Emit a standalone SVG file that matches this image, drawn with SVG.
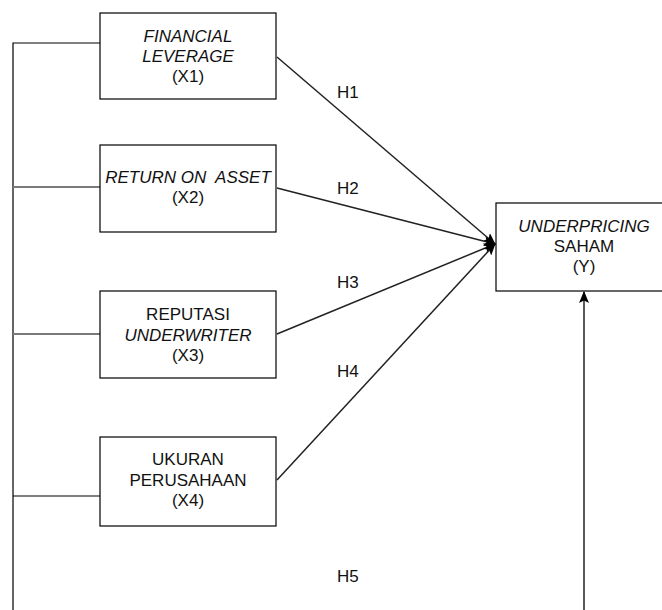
<svg xmlns="http://www.w3.org/2000/svg" width="662" height="610" viewBox="0 0 662 610">
<style>
.box{fill:#fff;stroke:#000;stroke-width:1.2}
text{font-family:"Liberation Sans",Arial,sans-serif;font-size:17px;fill:#111;text-anchor:middle;white-space:pre}
.i{font-style:italic}
.lbl{text-anchor:start}
.ln{stroke:#000;stroke-width:1.2;fill:none}
.gr{stroke:#7a7a7a;stroke-width:2;fill:none}
.ar{stroke:#222;stroke-width:1.5;fill:none;marker-end:url(#ah)}
</style>
<defs>
<marker id="ah" markerWidth="12" markerHeight="10" refX="11" refY="5" orient="auto" markerUnits="userSpaceOnUse">
<path d="M0,0 L12,5 L0,10 L2.5,5 Z" fill="#000"/>
</marker>
</defs>
<rect width="662" height="610" fill="#fff"/>
<g id="connectors">
<path class="ln" d="M13,610 L13,43 L100,43"/>
<path class="gr" d="M13,187 L100,187"/>
<path class="gr" d="M13,334 L100,334"/>
<path class="ln" d="M13,496 L100,496"/>
<line class="ar" x1="277" y1="57" x2="495" y2="244"/>
<line class="ar" x1="277" y1="188" x2="495" y2="244"/>
<line class="ar" x1="277" y1="334" x2="495" y2="244"/>
<line class="ar" x1="277" y1="480" x2="495" y2="244"/>
<line class="ar" x1="584" y1="610" x2="584" y2="292"/>
<text class="lbl" x="337" y="98">H1</text>
<text class="lbl" x="337" y="194">H2</text>
<text class="lbl" x="337" y="288">H3</text>
<text class="lbl" x="337" y="377">H4</text>
<text class="lbl" x="337" y="582">H5</text>
</g>
<g id="x1">
<rect class="box" x="100" y="13" width="176" height="86"/>
<text class="i" x="188" y="42">FINANCIAL</text>
<text class="i" x="188" y="62">LEVERAGE</text>
<text x="188" y="82">(X1)</text>
</g>
<g id="x2">
<rect class="box" x="100" y="145" width="176" height="87"/>
<text class="i" x="188" y="183">RETURN ON  ASSET</text>
<text x="188" y="203">(X2)</text>
</g>
<g id="x3">
<rect class="box" x="100" y="291" width="176" height="87"/>
<text x="188" y="320">REPUTASI</text>
<text class="i" x="188" y="341">UNDERWRITER</text>
<text x="188" y="361">(X3)</text>
</g>
<g id="x4">
<rect class="box" x="100" y="437" width="176" height="89"/>
<text x="188" y="465">UKURAN</text>
<text x="188" y="486">PERUSAHAAN</text>
<text x="188" y="506">(X4)</text>
</g>
<g id="y">
<rect class="box" x="496" y="203" width="176" height="88"/>
<text class="i" x="584" y="232">UNDERPRICING</text>
<text x="584" y="252">SAHAM</text>
<text x="584" y="272">(Y)</text>
</g>
</svg>
